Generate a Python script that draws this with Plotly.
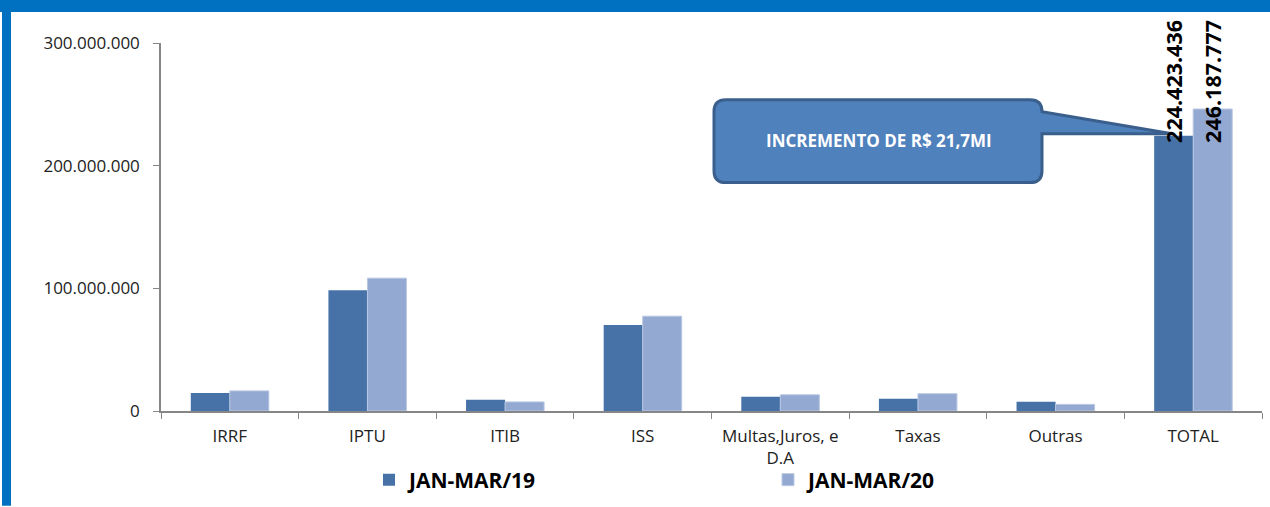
import plotly.graph_objects as go

categories = ["IRRF", "IPTU", "ITIB", "ISS", "Multas,Juros, e<br>D.A", "Taxas", "Outras", "TOTAL"]
serie_19_name = "JAN-MAR/19"
serie_20_name = "JAN-MAR/20"
serie_19 = [14.6e6, 98.4e6, 9.2e6, 70.2e6, 11.6e6, 9.9e6, 7.5e6, 224423436]
serie_20 = [16.4e6, 108.3e6, 7.4e6, 77.3e6, 13.2e6, 14.1e6, 5.4e6, 246187777]
total_labels = ["224.423.436", "246.187.777"]
y_ticks = [0, 100e6, 200e6, 300e6]
callout_text = "INCREMENTO DE R$ 21,7MI"

W, H = 1270, 507
L, R, T, B = 161, 8, 43, 95
PW, PH = W - L - R, H - T - B

def px(x):
    return (x - L) / PW

def py(y):
    return (H - B - y) / PH

FONT = "Open Sans"
DARK = "#4672A8"
LIGHT = "#94A9D1"

fig = go.Figure()
fig.add_trace(go.Bar(x=categories, y=serie_19, name=serie_19_name, marker_color=DARK,
                     marker_line_width=0, legend="legend"))
fig.add_trace(go.Bar(x=categories, y=serie_20, name=serie_20_name, marker_color=LIGHT,
                     marker_line=dict(color="#B9C7E3", width=1), legend="legend2"))

# data labels for TOTAL (rotated)
for txt, shift in zip(total_labels, [-19.5, 19.5]):
    fig.add_annotation(x=categories[-1], xref="x", y=py(145), yref="paper",
                       xshift=shift, text=txt, showarrow=False, textangle=-90,
                       yanchor="bottom", xanchor="center",
                       font=dict(family=FONT, size=21.5, color="black", weight="bold"))

# callout shape
def P(x, y):
    return f"{px(x):.5f},{py(y):.5f}"

d = (f"M{P(726,100)} L{P(1030,100)} Q{P(1042,100)} {P(1042,112)} "
     f"L{P(1172,134)} L{P(1042,134)} L{P(1042,171)} Q{P(1042,183)} {P(1030,183)} "
     f"L{P(726,183)} Q{P(714,183)} {P(714,171)} L{P(714,112)} Q{P(714,100)} {P(726,100)} Z")
fig.add_shape(type="path", path=d, xref="paper", yref="paper",
              fillcolor="#4F81BD", line=dict(color="#3B5F8C", width=3))
fig.add_annotation(x=px(879), y=py(141), xref="paper", yref="paper", text=callout_text,
                   xanchor="center", yanchor="middle", showarrow=False,
                   font=dict(family=FONT, size=17, color="white", weight="bold"))

# blue frame
fig.add_shape(type="rect", xref="paper", yref="paper", x0=px(0), x1=px(W), y0=py(12), y1=py(0),
              fillcolor="#0070C0", line_width=0)
fig.add_shape(type="rect", xref="paper", yref="paper", x0=px(2), x1=px(11), y0=py(H), y1=py(0),
              fillcolor="#0070C0", line_width=0)

legend_font = dict(family=FONT, size=21, color="black", weight="bold")
fig.update_layout(
    width=W, height=H,
    margin=dict(l=L, r=R, t=T, b=B),
    paper_bgcolor="white", plot_bgcolor="white",
    separators=",.",
    barmode="group", bargap=0.433, bargroupgap=0,
    font=dict(family=FONT, size=17, color="#222222"),
    legend=dict(orientation="h", x=px(369), y=py(480), xanchor="left", yanchor="middle",
                font=legend_font, bgcolor="rgba(0,0,0,0)"),
    legend2=dict(orientation="h", x=px(768), y=py(480), xanchor="left", yanchor="middle",
                 font=legend_font, bgcolor="rgba(0,0,0,0)"),
    showlegend=True,
)
fig.update_xaxes(showline=True, linecolor="#868686", linewidth=1.5, ticks="outside",
                 tickson="boundaries", ticklen=6, tickcolor="#868686", showgrid=False,
                 ticklabelstandoff=9, tickfont=dict(family=FONT, size=17, color="#222222"))
fig.update_yaxes(range=[0, 300e6], tickvals=y_ticks, tickformat=",d", showline=True,
                 linecolor="#868686", linewidth=1.5, ticks="outside", ticklen=6,
                 tickcolor="#868686", showgrid=False, zeroline=False, ticklabelstandoff=10,
                 tickfont=dict(family=FONT, size=17, color="#222222"))

fig.write_html("out.html", config={"displayModeBar": False},
               post_script="document.body.style.margin='0';")
